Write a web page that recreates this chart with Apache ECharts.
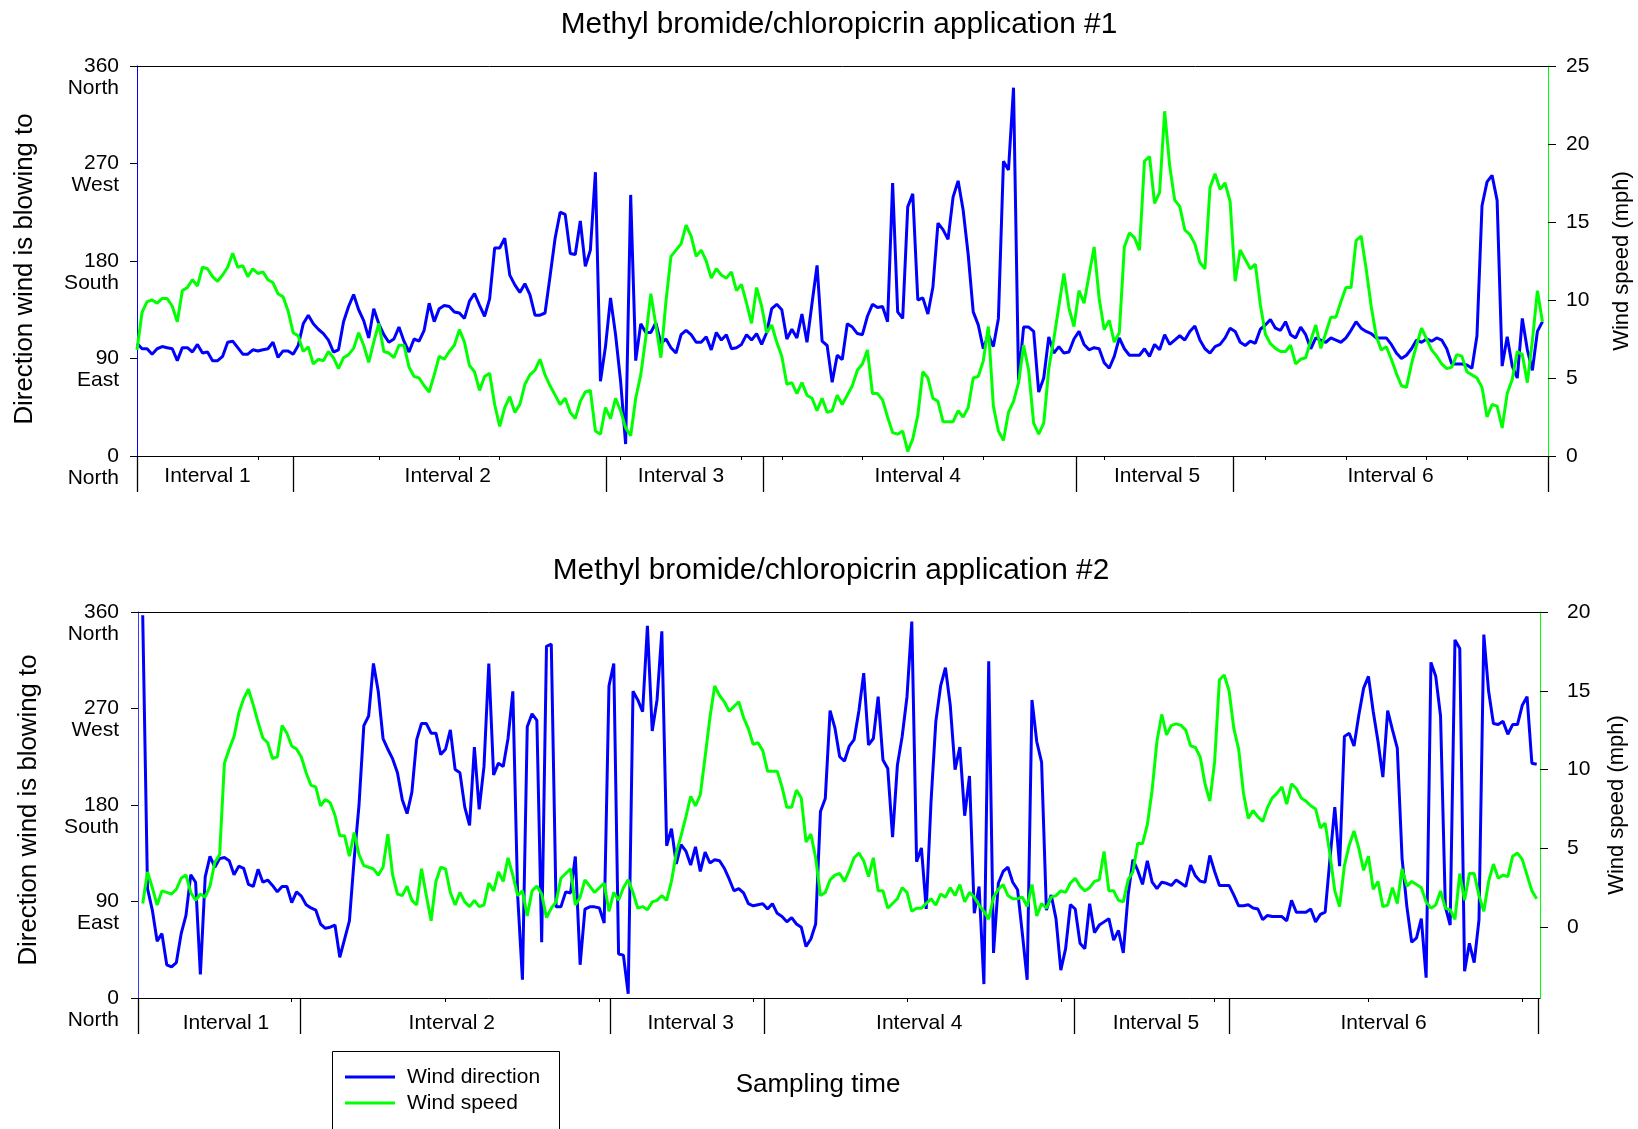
<!DOCTYPE html>
<html><head><meta charset="utf-8">
<script src="https://cdn.jsdelivr.net/npm/echarts@6/dist/echarts.min.js"></script>
<style>html,body{margin:0;padding:0;background:#fff}#c{width:1638px;height:1129px}</style>
</head><body><div id="c"></div>
<script>
// ---- Data ----
const topDirection = [104,99,99,94,99,101,100,99,88,100,100,96,103,95,96,88,88,92,105,106,100,94,94,98,97,98,99,105,91,97,97,94,102,122,130,122,117,113,107,96,98,124,138,149,135,125,109,136,122,112,105,108,119,106,96,108,106,116,141,124,136,139,138,133,132,127,143,150,139,129,145,
192,192,201,167,158,151,159,149,130,130,132,166,201,225,223,187,186,217,175,190,262,69,101,146,112,69,11,241,88,122,114,114,123,104,108,100,95,112,116,112,105,105,110,98,114,107,112,99,100,103,112,107,113,103,114,136,140,135,108,117,109,131,105,141,176,106,102,68,93,
89,122,119,113,112,129,140,137,138,124,252,133,127,230,242,144,146,131,156,215,209,200,239,254,227,186,133,121,99,112,101,127,272,264,340,70,119,119,115,59,72,110,95,101,95,96,108,115,103,98,100,99,86,81,92,109,99,93,93,93,99,92,103,98,112,103,107,111,107,115,
120,107,99,95,101,103,109,118,115,105,102,106,104,117,121,126,118,116,124,112,109,119,112,99,109,107,105,109,107,105,109,116,124,118,115,113,109,109,109,103,95,90,93,99,107,105,108,106,109,107,99,85,85,85,84,81,111,231,253,259,236,83,110,83,72,127,98,79,115,124];
const topSpeed = [6.8,9.2,9.9,10.0,9.8,10.1,10.1,9.6,8.6,10.6,10.8,11.3,10.9,12.1,12.0,11.5,11.2,11.6,12.1,13.0,12.1,12.2,11.5,12.0,11.7,11.8,11.3,11.1,10.4,10.2,9.3,7.9,7.7,6.7,7.0,5.9,6.2,6.1,6.7,6.3,5.6,6.3,6.5,6.9,7.9,7.1,6.0,7.3,8.5,6.7,6.6,6.3,7.1,7.1,5.7,5.1,5.0,4.5,4.1,5.2,6.4,6.2,6.7,7.1,8.1,7.3,5.8,5.4,4.2,5.1,5.3,
3.3,1.9,3.1,3.8,2.8,3.3,4.6,5.2,5.5,6.2,5.2,4.5,3.9,3.3,3.7,2.8,2.4,3.5,4.1,4.2,1.6,1.4,3.1,2.4,3.7,2.9,1.8,1.3,3.7,5.2,7.6,10.4,8.4,6.3,9.9,12.8,13.2,13.6,14.8,14.1,12.8,13.2,12.5,11.4,12.0,11.6,11.4,11.8,10.6,11.0,9.8,8.5,10.8,9.6,7.9,8.4,7.3,6.4,4.6,4.7,4.0,4.7,3.9,3.7,2.9,3.7,2.8,2.9,3.9,
3.3,3.9,4.5,5.5,5.9,6.8,4.0,4.0,3.6,2.5,1.5,1.4,1.6,0.3,1.1,2.6,5.4,5.0,3.7,3.5,2.2,2.2,2.2,2.9,2.5,3.1,5.0,5.1,6.1,8.3,3.2,1.6,1.0,2.8,3.5,4.7,7.1,5.5,2.1,1.4,2.1,5.6,7.5,9.6,11.7,9.5,8.3,10.6,9.8,11.6,13.4,10.1,8.1,8.7,7.3,7.9,13.4,14.3,14.0,13.2,18.9,19.2,16.2,16.9,22.1,18.6,16.4,16.0,14.5,14.2,
13.6,12.4,12.0,17.2,18.1,17.1,17.5,16.3,11.2,13.2,12.6,12.0,12.3,9.7,7.8,7.2,6.9,6.7,6.7,7.1,5.9,6.2,6.3,7.4,8.4,6.9,7.9,8.9,8.9,9.9,10.8,10.8,13.8,14.1,12.0,9.6,7.7,6.8,7.0,6.2,5.3,4.5,4.4,5.9,7.1,8.2,7.5,6.8,6.4,5.9,5.6,5.7,6.5,6.4,5.4,5.2,5.0,4.4,2.5,3.3,3.2,1.8,4.0,4.9,6.7,6.5,4.7,7.4,10.6,8.6];
const bottomDirection = [357,102,82,53,60,31,29,33,60,77,115,108,22,113,132,122,130,131,128,115,123,121,106,104,120,108,110,105,99,104,104,89,99,95,87,84,82,69,65,66,68,38,55,72,130,180,254,263,312,286,242,232,223,210,185,172,192,241,256,256,247,247,227,232,250,213,210,178,161,234,176,216,312,
208,219,216,242,286,96,17,253,265,259,52,328,330,85,85,99,98,132,31,83,85,85,84,70,291,312,41,40,4,286,278,267,347,249,278,342,142,158,125,143,137,124,141,118,136,126,129,128,121,111,100,102,98,88,86,87,88,83,88,79,76,71,75,69,66,48,55,69,174,186,268,252,225,
221,235,241,268,303,236,242,281,222,214,150,217,244,281,351,127,140,83,183,258,291,308,273,213,234,170,207,79,104,13,314,42,107,118,122,108,101,60,17,278,239,220,82,96,74,26,46,87,83,51,46,88,61,68,71,74,54,63,42,96,129,119,106,128,108,102,108,107,105,110,107,104,124,
114,109,108,133,118,105,105,105,96,86,86,87,84,83,73,77,76,76,76,72,91,80,80,80,83,71,78,80,130,178,123,244,247,235,264,289,300,267,239,206,268,250,233,130,85,52,56,74,19,313,300,263,85,68,334,326,25,51,33,73,339,286,256,255,258,246,255,255,273,281,219,218];
const bottomSpeed = [1.5,3.5,2.5,1.4,2.3,2.2,2.1,2.4,3.1,3.3,2.2,1.7,2.1,1.9,2.6,4.1,4.6,10.4,11.3,12.1,13.6,14.5,15.1,14.1,13.0,12.0,11.7,10.7,10.8,12.8,12.3,11.5,11.3,10.8,9.8,9.0,8.9,7.7,8.1,7.9,7.1,5.8,5.8,4.5,6.0,4.6,3.9,3.8,3.7,3.3,3.8,5.9,3.3,2.1,2.0,2.6,1.7,1.4,3.7,2.0,0.4,2.9,3.8,3.7,2.2,1.4,2.2,1.6,1.3,1.7,1.3,1.4,2.8,
2.3,3.5,2.9,4.4,3.3,2.0,2.3,0.7,2.3,2.6,2.1,0.6,1.2,1.6,3.1,3.4,3.7,1.4,1.9,3.0,2.6,2.2,2.5,2.8,1.0,2.2,1.7,2.5,3.0,2.2,1.2,1.3,1.1,1.6,1.7,2.0,1.7,2.9,4.7,5.8,7.0,8.3,7.7,8.4,10.8,13.3,15.3,14.7,14.3,13.7,14.0,14.3,13.3,12.6,11.6,11.7,11.2,9.9,9.9,9.9,8.9,7.6,7.6,8.7,8.2,5.4,5.9,4.4,2.0,2.2,3.0,3.3,3.4,
2.9,3.6,4.4,4.7,4.2,3.2,4.4,2.3,2.3,1.2,1.5,1.8,2.5,2.2,1.0,1.2,1.2,1.5,1.8,1.4,2.1,1.9,2.5,2.0,2.7,1.6,2.2,1.9,1.4,1.0,0.5,1.9,2.4,2.7,2.0,1.8,1.8,1.9,1.3,2.7,0.7,1.5,1.2,1.9,2.0,2.3,2.2,2.8,3.1,2.6,2.3,2.5,2.9,3.0,4.8,2.3,2.3,1.7,1.6,3.0,3.5,5.3,5.3,6.5,8.7,11.8,13.5,12.2,12.8,12.9,12.8,12.5,11.5,
11.4,10.8,9.1,8.0,10.5,15.7,16.0,15.0,12.6,11.3,8.5,6.9,7.4,7.0,6.7,7.6,8.2,8.5,8.9,7.8,9.1,8.8,8.2,8.0,7.7,7.5,6.3,6.6,4.6,2.3,1.3,3.9,5.2,6.1,5.0,3.6,4.5,2.4,2.9,1.3,1.4,2.5,1.5,3.7,2.6,2.9,2.7,2.5,1.6,1.2,1.4,2.3,1.2,1.1,0.5,3.4,1.7,3.4,3.4,2.0,1.0,2.9,4.0,3.1,3.3,3.2,4.5,4.7,4.3,3.3,2.3,1.8];

const intervalNames = ['Interval 1','Interval 2','Interval 3','Interval 4','Interval 5','Interval 6'];
// interval boundaries and label anchors, in sample-index units
const topIntervalEdges = [0, 30.96, 93.13, 124.35, 186.5, 217.6, 280.1];
const topIntervalLabelAt = [14.0, 61.7, 108.0, 155.0, 202.5, 248.85];
const bottomIntervalEdges = [-0.98, 32.7, 97.2, 129.3, 193.8, 226, 290.3];
const bottomIntervalLabelAt = [17.3, 64.3, 114.0, 161.55, 210.8, 258.15];
const topMinorTicks = [24,48,64,72,96,120,128,144,160,168,192,224,240,256,264];
const bottomMinorTicks = [31,63,95,127,159,191,223,255,287];
const directionTicks = [0, 90, 180, 270, 360];
const directionNames = ['North','East','South','West','North'];
const bottomSpeedTicks = [0, 5, 10, 15, 20];

const FONT = '"Liberation Sans", Arial, Helvetica, sans-serif';
const BLUE = '#0000ff', GREEN = '#00ff00';

function xMain(gi, min, max, edges, labelAt, margin){
  return { type:'value', gridIndex:gi, position:'bottom', min, max,
    axisLine:{show:true, onZero:false, lineStyle:{color:'#000', width:1}},
    axisTick:{show:true, customValues:edges, length:36, lineStyle:{color:'#000', width:1.3}},
    axisLabel:{show:true, customValues:labelAt, margin, fontSize:21, fontFamily:FONT, color:'#000',
      formatter:(v)=>{ const k = labelAt.findIndex(x=>Math.abs(x-v)<1e-6); return k>=0 ? intervalNames[k] : ''; }},
    splitLine:{show:false}, axisPointer:{show:false} };
}
function xMinor(gi, min, max, ticks){
  return { type:'value', gridIndex:gi, position:'bottom', min, max,
    axisLine:{show:false, onZero:false}, axisTick:{show:true, customValues:ticks, length:4, lineStyle:{color:'#000'}},
    axisLabel:{show:false}, splitLine:{show:false} };
}
function xTop(gi, min, max){
  return { type:'value', gridIndex:gi, position:'top', min, max,
    axisLine:{show:true, onZero:false, lineStyle:{color:'#000', width:1}}, axisTick:{show:false},
    axisLabel:{show:false}, splitLine:{show:false} };
}
function yDir(gi, color, margin){
  return { type:'value', gridIndex:gi, position:'left', min:0, max:360, interval:90,
    axisLine:{show:true, onZero:false, lineStyle:{color, width:1}},
    axisTick:{show:true, length:7, lineStyle:{color:'#000'}},
    axisLabel:{margin, fontSize:21, lineHeight:22, fontFamily:FONT, color:'#000',
      formatter:(v)=>' \n' + v + '\n' + directionNames[directionTicks.indexOf(v)]},
    splitLine:{show:false} };
}

const option = {
  animation:false,
  backgroundColor:'#fff',
  grid:[
    {left:137, top:66, width:1411, height:390},
    {left:138, top:612, width:1402, height:386}
  ],
  xAxis:[
    xMain(0, 0, 280.1, topIntervalEdges, topIntervalLabelAt, 10),
    xMinor(0, 0, 280.1, topMinorTicks),
    xTop(0, 0, 280.1),
    xMain(1, -0.98, 290.69, bottomIntervalEdges, bottomIntervalLabelAt, 15),
    xMinor(1, -0.98, 290.69, bottomMinorTicks),
    xTop(1, -0.98, 290.69)
  ],
  yAxis:[
    yDir(0, BLUE, 18),
    { type:'value', gridIndex:0, position:'right', min:0, max:25, interval:5,
      axisLine:{show:true, onZero:false, lineStyle:{color:GREEN, width:1}},
      axisTick:{show:true, length:8, lineStyle:{color:'#000'}},
      axisLabel:{margin:18, fontSize:21, fontFamily:FONT, color:'#000'}, splitLine:{show:false} },
    yDir(1, '#3a3aff', 19),
    { type:'value', gridIndex:1, position:'right', min:-4.5, max:20,
      axisLine:{show:true, onZero:false, lineStyle:{color:GREEN, width:1}},
      axisTick:{show:true, customValues:bottomSpeedTicks, length:8, lineStyle:{color:'#000'}},
      axisLabel:{customValues:bottomSpeedTicks, margin:27, fontSize:21, fontFamily:FONT, color:'#000'}, splitLine:{show:false} }
  ],
  legend:{ show:true, orient:'vertical', left:345, top:1066, data:['Wind direction','Wind speed'],
    icon:'rect', itemWidth:50, itemHeight:3, itemGap:4, padding:0, selectedMode:false,
    textStyle:{fontSize:21, lineHeight:22, fontFamily:FONT, color:'#000', padding:[0,0,0,7]} },
  graphic:[
    {type:'rect', shape:{x:332.5, y:1051.5, width:227, height:120}, style:{fill:'none', stroke:'#000', lineWidth:1}, silent:true},
    {type:'text', x:839, y:25, style:{text:'Methyl bromide/chloropicrin application #1', fontSize:29.8, fontFamily:FONT, fill:'#000', align:'center', verticalAlign:'middle'}},
    {type:'text', x:831, y:571, style:{text:'Methyl bromide/chloropicrin application #2', fontSize:29.8, fontFamily:FONT, fill:'#000', align:'center', verticalAlign:'middle'}},
    {type:'text', x:818, y:1085, style:{text:'Sampling time', fontSize:26, fontFamily:FONT, fill:'#000', align:'center', verticalAlign:'middle'}},
    {type:'text', x:25, y:269, rotation:Math.PI/2, style:{text:'Direction wind is blowing to', fontSize:25.8, fontFamily:FONT, fill:'#000', align:'center', verticalAlign:'middle'}},
    {type:'text', x:29, y:810, rotation:Math.PI/2, style:{text:'Direction wind is blowing to', fontSize:25.8, fontFamily:FONT, fill:'#000', align:'center', verticalAlign:'middle'}},
    {type:'text', x:1622, y:261, rotation:Math.PI/2, style:{text:'Wind speed (mph)', fontSize:22, fontFamily:FONT, fill:'#000', align:'center', verticalAlign:'middle'}},
    {type:'text', x:1617, y:805, rotation:Math.PI/2, style:{text:'Wind speed (mph)', fontSize:22, fontFamily:FONT, fill:'#000', align:'center', verticalAlign:'middle'}}
  ],
  series:[
    {type:'line', name:'Wind direction', xAxisIndex:0, yAxisIndex:0, data:topDirection.map((v,i)=>[i,v]),
      symbol:'none', showSymbol:false, lineStyle:{color:BLUE, width:3}, itemStyle:{color:BLUE}, z:2, silent:true},
    {type:'line', name:'Wind speed', xAxisIndex:0, yAxisIndex:1, data:topSpeed.map((v,i)=>[i,v]),
      symbol:'none', showSymbol:false, lineStyle:{color:GREEN, width:3}, itemStyle:{color:GREEN}, z:3, silent:true},
    {type:'line', name:'Wind direction', xAxisIndex:3, yAxisIndex:2, data:bottomDirection.map((v,i)=>[i,v]),
      symbol:'none', showSymbol:false, lineStyle:{color:BLUE, width:3}, itemStyle:{color:BLUE}, z:2, silent:true},
    {type:'line', name:'Wind speed', xAxisIndex:3, yAxisIndex:3, data:bottomSpeed.map((v,i)=>[i,v]),
      symbol:'none', showSymbol:false, lineStyle:{color:GREEN, width:3}, itemStyle:{color:GREEN}, z:3, silent:true}
  ]
};
const chart = echarts.init(document.getElementById('c'), null, {renderer:'canvas'});
chart.setOption(option);
</script></body></html>
